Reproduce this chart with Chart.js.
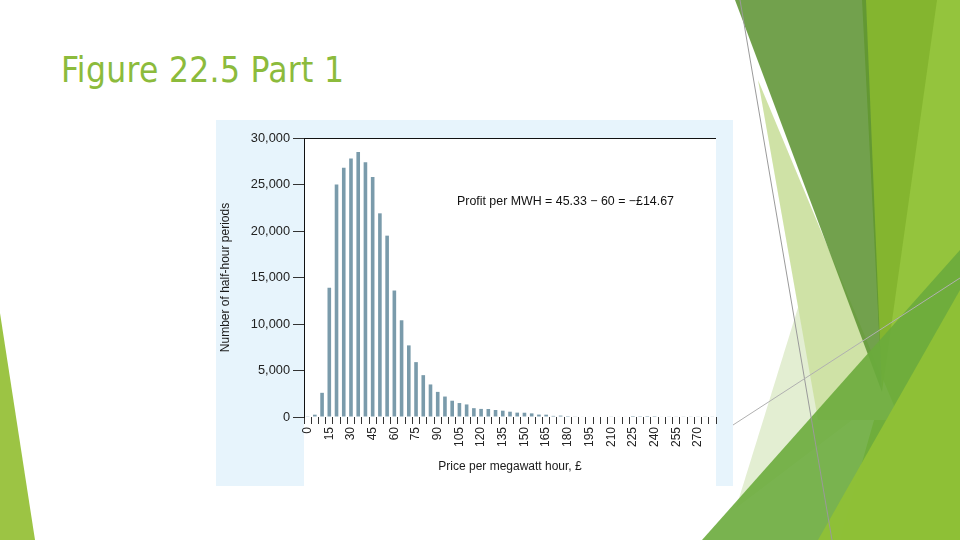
<!DOCTYPE html>
<html>
<head>
<meta charset="utf-8">
<script src="https://cdn.jsdelivr.net/npm/chart.js@4"></script>
<style>
  html, body { margin: 0; padding: 0; background: #ffffff; }
  #slide { position: relative; width: 960px; height: 540px; overflow: hidden; background: #ffffff; }
  #deco { position: absolute; left: 0; top: 0; }
  #title { position: absolute; left: 61px; top: 50px; font-family: "DejaVu Sans Condensed", "DejaVu Sans", sans-serif; font-size: 35px; color: #8cbb3c; white-space: nowrap; letter-spacing: 0.3px; }
  #panel { position: absolute; left: 216px; top: 120px; width: 517px; height: 366px; background: #e7f4fc; }
  #panel canvas { display: block; }
</style>
</head>
<body>
<div id="slide">
  <svg id="deco" width="960" height="540" viewBox="0 0 960 540">
    <polygon points="0,313 35,540 0,540" fill="#9cc444"/>
    <polygon points="864,0 960,0 960,540 840,540 882,392" fill="#94c43d"/>
    <polygon points="805,285 885,395 736,508" fill="#e3eed2"/>
    <polygon points="758,80 900,420 818,420" fill="#cfe2a6"/>
    <polygon points="862,0 937,0 882,392" fill="#84b52f"/>
    <polygon points="735,0 866,0 882,392" fill="#5e9434" opacity="0.88"/>
    <polygon points="702,540 960,250 960,540" fill="#6aab3c" opacity="0.9"/>
    <polygon points="818,540 960,290 960,540" fill="#8fc136" opacity="0.95"/>
    <line x1="740" y1="0" x2="832" y2="540" stroke="#9a9a9a" stroke-width="1"/>
    <line x1="733" y1="425" x2="960" y2="278" stroke="#b0b0b0" stroke-width="1"/>
  </svg>
  <div id="title">Figure 22.5 Part 1</div>
  <div id="panel"><canvas id="c" width="517" height="366"></canvas></div>
</div>
<script>
// Price bins (£ per MWh), bar heights (number of half-hour periods)
const priceBins = ["0","5","10","15","20","25","30","35","40","45","50","55","60","65","70","75","80","85","90","95",
  "100","105","110","115","120","125","130","135","140","145","150","155","160","165","170","175","180","185","190","195",
  "200","205","210","215","220","225","230","235","240","245","250","255","260","265","270","275","280"];
const periods = [80,250,2600,13900,25000,26800,27800,28500,27400,25800,
  21900,19500,13600,10400,7700,5900,4500,3500,2700,2200,
  1750,1500,1350,950,870,860,750,680,570,470,
  460,390,260,250,120,150,100,70,60,50,
  50,50,40,50,60,110,90,110,100,60,
  40,40,40,40,40,40,40];
const yTicks = [0,5000,10000,15000,20000,25000,30000];
const xTitle = "Price per megawatt hour, £";
const yTitle = "Number of half-hour periods";
const note = "Profit per MWH = 45.33 \u2212 60 = \u2212£14.67";

const FONT = "'Liberation Sans', Arial, sans-serif";

const whitePlot = {
  id: 'whitePlot',
  beforeDraw(chart) {
    const a = chart.chartArea, ctx = chart.ctx;
    ctx.save();
    ctx.fillStyle = '#ffffff';
    ctx.fillRect(a.left, a.top, a.right - a.left, chart.height - a.top);
    ctx.restore();
  }
};
const noteText = {
  id: 'noteText',
  afterDraw(chart) {
    const ctx = chart.ctx;
    ctx.save();
    ctx.font = "12.4px " + FONT;
    ctx.fillStyle = '#111111';
    ctx.textBaseline = 'middle';
    ctx.textAlign = 'left';
    ctx.fillText(note, 241, 82);
    ctx.restore();
  }
};

new Chart(document.getElementById('c'), {
  type: 'bar',
  data: {
    labels: priceBins,
    datasets: [{
      data: periods,
      backgroundColor: '#7a9bab',
      borderWidth: 0,
      barPercentage: 0.5,
      categoryPercentage: 1.0
    }]
  },
  options: {
    responsive: false,
    animation: false,
    devicePixelRatio: 1,
    layout: { padding: { left: 0, top: 18, right: 17, bottom: 0 } },
    plugins: { legend: { display: false }, tooltip: { enabled: false } },
    scales: {
      x: {
        offset: true,
        border: { display: false },
        grid: { display: true, offset: true, drawOnChartArea: false, drawTicks: true, tickLength: 7, tickColor: '#333333', lineWidth: 1 },
        ticks: {
          autoSkip: false, maxRotation: 90, minRotation: 90, padding: 3,
          color: '#222222', font: { family: FONT, size: 12 },
          callback: function(v) { const l = Number(this.getLabelForValue(v)); return (l % 15 === 0 && l <= 270) ? String(l) : ''; }
        },
        title: { display: true, text: xTitle, color: '#1a1a1a', font: { family: FONT, size: 12 }, padding: { top: 4, bottom: 12 } },
        afterFit(s) { s.height = 69; }
      },
      y: {
        min: 0, max: 30000,
        afterBuildTicks(s) { s.ticks = yTicks.map(v => ({ value: v })); },
        border: { display: true, color: '#111111', width: 1 },
        grid: {
          drawOnChartArea: true, drawTicks: true, tickLength: 11, tickColor: '#333333',
          color: ctx => (ctx.tick && ctx.tick.value === 30000) ? '#111111' : 'rgba(0,0,0,0)'
        },
        ticks: { padding: 3, color: '#222222', font: { family: FONT, size: 12.8 },
          callback: v => Number(v).toLocaleString('en-US') },
        title: { display: true, text: yTitle, color: '#1a1a1a', font: { family: FONT, size: 12 }, padding: { top: 2, bottom: 2 } },
        afterFit(s) { s.width = 88; }
      }
    }
  },
  plugins: [whitePlot, noteText]
});
</script>
</body>
</html>
